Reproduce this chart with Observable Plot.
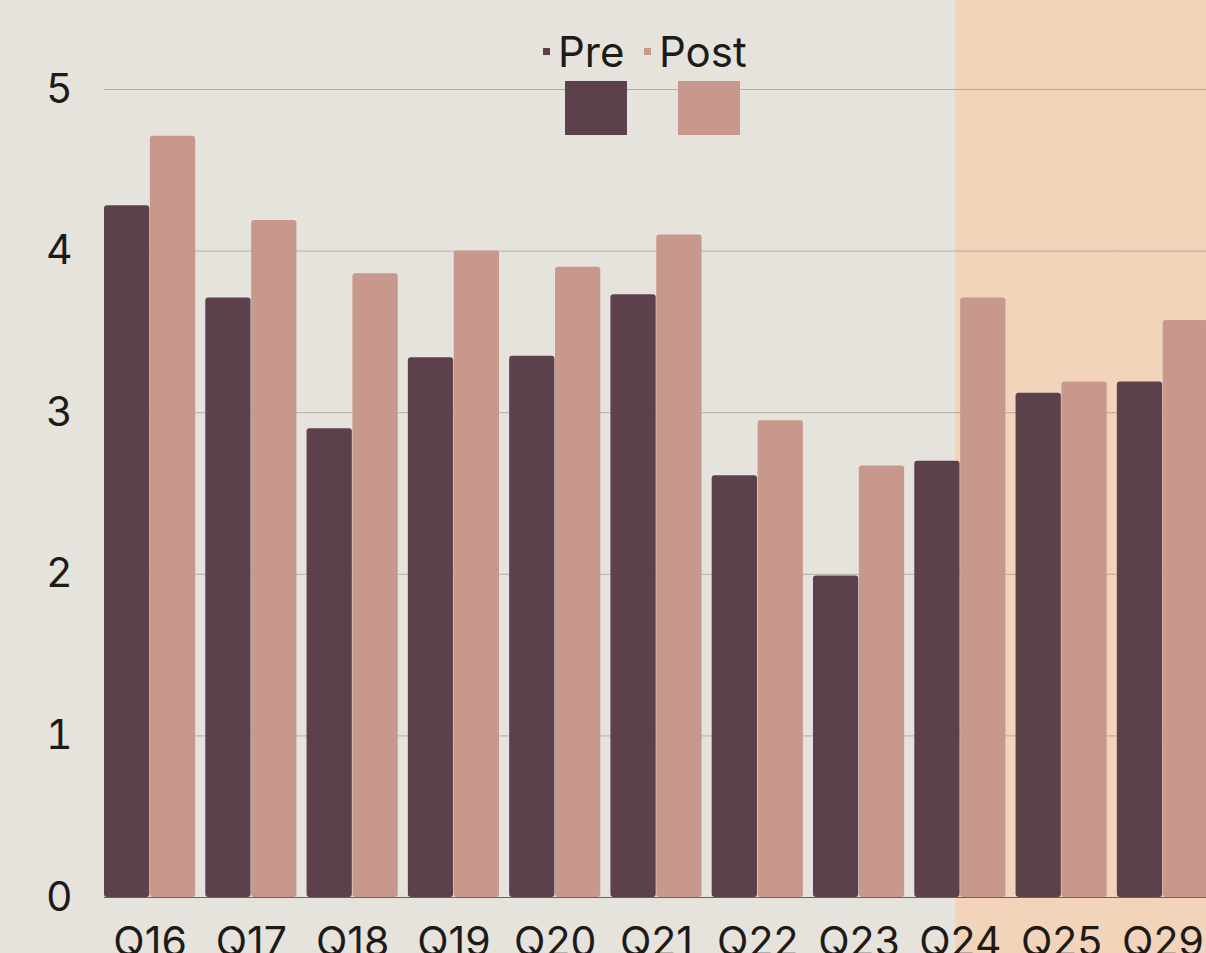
<!DOCTYPE html>
<html><head><meta charset="utf-8">
<script src="https://cdn.jsdelivr.net/npm/d3@7"></script>
<script src="https://cdn.jsdelivr.net/npm/@observablehq/plot@0.6"></script>
<style>
html,body{margin:0;padding:0;background:#E6E2DC;overflow:hidden;width:1206px;height:953px;}
#wrap{position:relative;width:1206px;height:953px;overflow:hidden;font-family:Inter,"Noto Sans",sans-serif;color:#1d1b18;}
#wrap svg{position:absolute;left:0;top:0;max-width:none !important;}
.lg-item{position:absolute;top:31px;font-size:42px;line-height:1;display:flex;align-items:baseline;white-space:nowrap;}
.lg-dot{width:7px;height:7px;margin-right:8px;position:relative;top:-12px;}
.lg-big{position:absolute;top:81px;width:62px;height:54px;}
</style></head><body><div id="wrap"></div>
<script>
const categories = ["Q16","Q17","Q18","Q19","Q20","Q21","Q22","Q23","Q24","Q25","Q29"];
const preValues  = [4.28, 3.71, 2.90, 3.34, 3.35, 3.73, 2.61, 1.99, 2.70, 3.12, 3.19];
const postValues = [4.71, 4.19, 3.86, 4.00, 3.90, 4.10, 2.95, 2.67, 3.71, 3.19, 3.57];
const seriesNames = ["Pre", "Post"];
const seriesColors = ["#5C414D", "#C8988C"];
const yTicks = [0, 1, 2, 3, 4, 5];
const shadeStart = ["Q24"];
const shadeRest = ["Q25", "Q29"];

const rows = [];
categories.forEach((c, i) => {
  rows.push({category: c, series: "Pre", value: preValues[i]});
  rows.push({category: c, series: "Post", value: postValues[i]});
});

const W = 1212, H = 960, mL = 104, mR = 4, mT = 89, mB = 63;
const pad = 0.1;
const step = (W - mR - mL) / (categories.length - pad);
const bw = step * (1 - pad);
const gap = step - bw;

const chart = Plot.plot({
  width: W, height: H,
  marginLeft: mL, marginRight: mR, marginTop: mT, marginBottom: mB,
  style: {background: "transparent", fontFamily: "Inter, 'Noto Sans', sans-serif", fontSize: "41px", color: "#1d1b18", overflow: "visible", maxWidth: "none"},
  x: {domain: categories, paddingInner: pad, paddingOuter: 0, round: false, label: null, axis: null},
  y: {domain: [0, 5], label: null, axis: null},
  color: {domain: seriesNames, range: seriesColors},
  marks: [
    Plot.barY(shadeStart, {x: d => d, y1: 0, y2: 5, fill: "#F2D4BB", insetLeft: bw / 2 - 4.5, insetRight: -gap - 0.5, insetTop: -mT, insetBottom: -mB}),
    Plot.barY(shadeRest, {x: d => d, y1: 0, y2: 5, fill: "#F2D4BB", insetLeft: 0, insetRight: -gap - 12, insetTop: -mT, insetBottom: -mB}),
    Plot.ruleY(yTicks.filter(d => d > 0), {stroke: "#000", strokeOpacity: 0.22, strokeWidth: 1}),
    Plot.barY(rows.filter(d => d.series === "Pre"), {x: "category", y: "value", fill: "series", insetRight: bw / 2 + 0.3, rx: 3}),
    Plot.barY(rows.filter(d => d.series === "Post"), {x: "category", y: "value", fill: "series", insetLeft: bw / 2 + 0.3, rx: 3}),
    Plot.ruleY([0], {stroke: "#000", strokeOpacity: 0.55, strokeWidth: 1}),
    Plot.axisX({tickSize: 0, tickPadding: 29, label: null, fontSize: 41, fill: "#1d1b18"}),
    Plot.axisY(yTicks, {tickSize: 0, tickPadding: 32, label: null, fontSize: 41, fill: "#1d1b18", tickFormat: d => String(d)})
  ]
});

const wrap = document.getElementById("wrap");
wrap.appendChild(chart);

// legend overlay
const lgLeft = [543, 644];
const bigLeft = [565, 678];
seriesNames.forEach((name, i) => {
  const item = document.createElement("div");
  item.className = "lg-item";
  item.style.left = lgLeft[i] + "px";
  const dot = document.createElement("span");
  dot.className = "lg-dot";
  dot.style.background = seriesColors[i];
  const label = document.createElement("span");
  label.textContent = name;
  item.appendChild(dot);
  item.appendChild(label);
  wrap.appendChild(item);
  const big = document.createElement("div");
  big.className = "lg-big";
  big.style.left = bigLeft[i] + "px";
  big.style.background = seriesColors[i];
  wrap.appendChild(big);
});
</script>
</body></html>
